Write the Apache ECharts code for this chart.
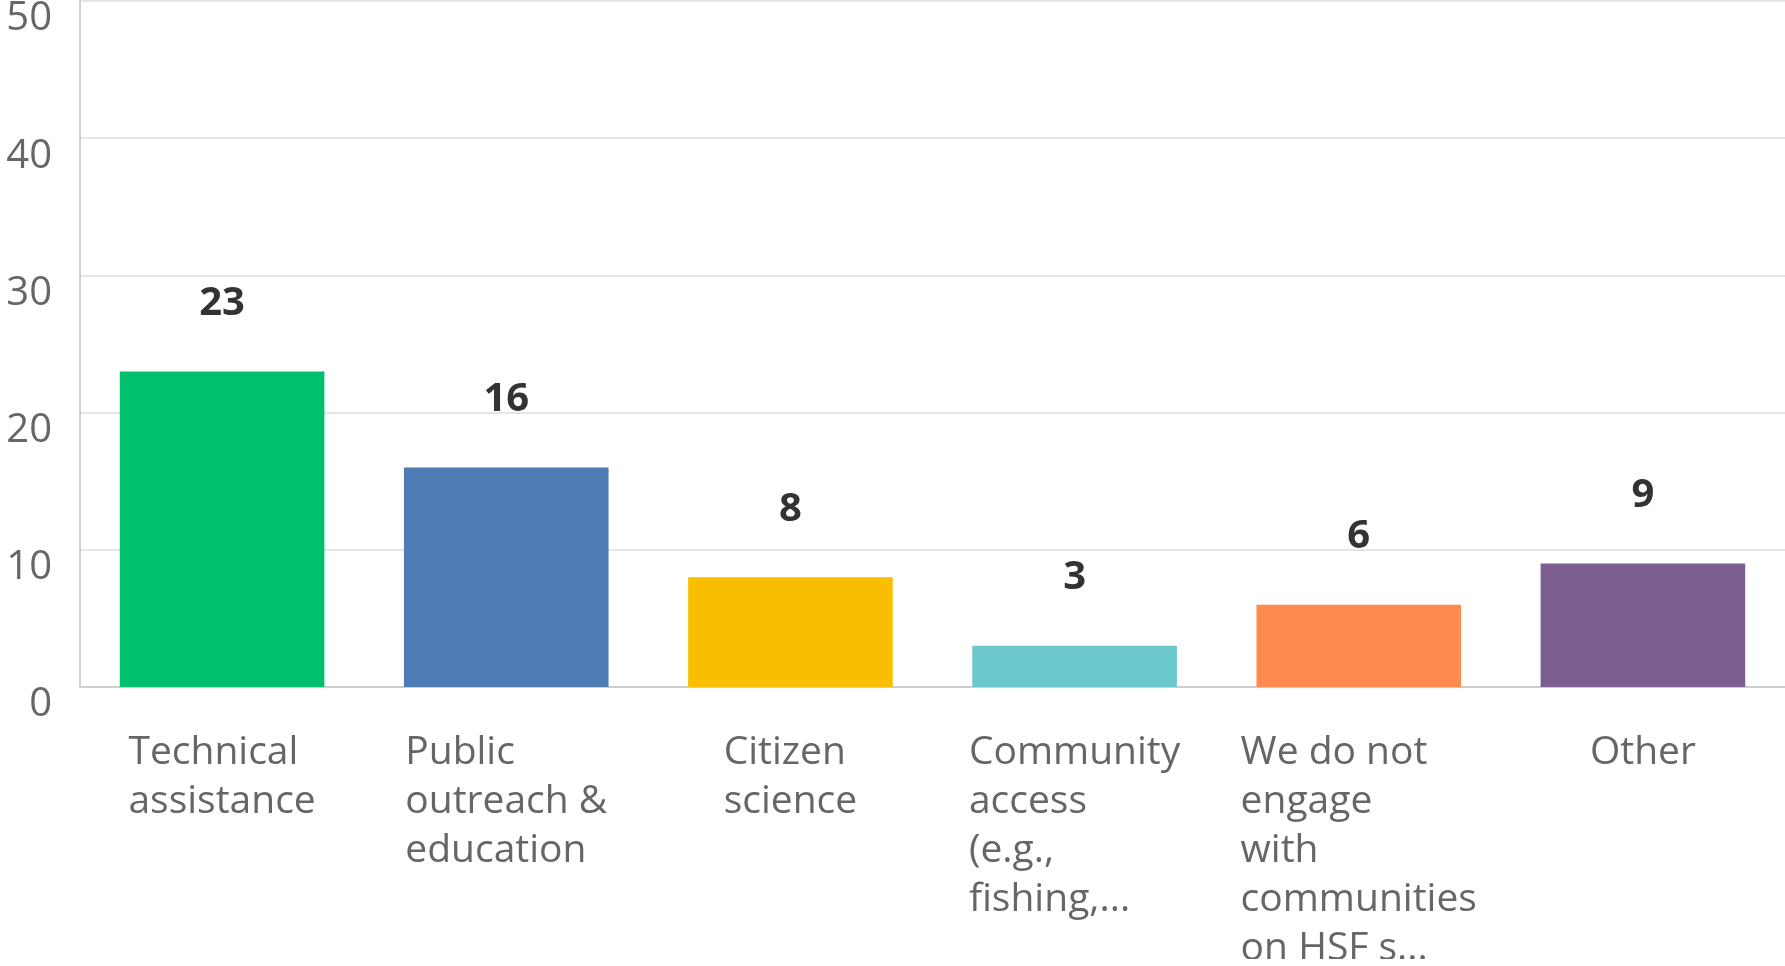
<!DOCTYPE html>
<html>
<head>
<meta charset="utf-8">
<title>Community engagement activities</title>
<script src="https://cdn.jsdelivr.net/npm/echarts@6/dist/echarts.min.js"></script>
<style>
  html, body { margin: 0; padding: 0; background: #ffffff; }
  #chart { width: 1785px; height: 966px; }
</style>
</head>
<body>
<div id="chart"></div>
<script>
// Response categories (line breaks as they wrap under each bar)
const categories = [
  'Technical\nassistance',
  'Public\noutreach &\neducation',
  'Citizen\nscience',
  'Community\naccess\n(e.g.,\nfishing,...',
  'We do not\nengage\nwith\ncommunities\non HSF s...',
  'Other'
];
// Number of responses per category
const responses = [23, 16, 8, 3, 6, 9];
// Bar colours, one per category
const barColors = ['#00bf6f', '#507cb6', '#f9be00', '#6bc8cd', '#ff8b4f', '#7d5e90'];
// Value axis ticks
const yTicks = [0, 10, 20, 30, 40, 50];

const chart = echarts.init(document.getElementById('chart'), null, { renderer: 'canvas' });

const fontFam = '"Open Sans", "Noto Sans", sans-serif';

chart.setOption({
  animation: false,
  backgroundColor: '#ffffff',
  grid: {
    left: 80, right: 0, top: 1, bottom: 279,
    containLabel: false,
    outerBoundsMode: 'none'
  },
  // White strip along the bottom edge where the long label runs out of the panel
  graphic: [{
    type: 'rect',
    left: 0,
    bottom: 0,
    z: 100,
    shape: { width: 1785, height: 7 },
    style: { fill: '#ffffff' }
  }],
  xAxis: {
    type: 'category',
    data: categories,
    axisLine: { show: true, lineStyle: { color: '#cfcfcf', width: 2 } },
    axisTick: { show: false },
    axisLabel: {
      interval: 0,
      margin: 41,
      color: '#666666',
      fontFamily: fontFam,
      fontSize: 39,
      lineHeight: 49,
      align: 'center',
      formatter: function (v) {
        return v.split('\n').map(function (s) { return '{t|' + s + '}'; }).join('\n');
      },
      rich: {
        t: { align: 'left', color: '#666666', fontFamily: fontFam, fontSize: 39, lineHeight: 49 }
      }
    }
  },
  yAxis: {
    type: 'value',
    min: yTicks[0],
    max: yTicks[yTicks.length - 1],
    interval: yTicks[1] - yTicks[0],
    axisLine: { show: true, lineStyle: { color: '#cfcfcf', width: 2 } },
    axisTick: { show: false },
    splitLine: { show: true, lineStyle: { color: '#e6e6e6', width: 2 } },
    axisLabel: {
      margin: 28,
      color: '#666666',
      fontFamily: fontFam,
      fontSize: 40,
      verticalAlign: 'top',
      lineHeight: 36
    }
  },
  series: [{
    type: 'bar',
    data: responses.map(function (v, i) {
      return { value: v, itemStyle: { color: barColors[i] } };
    }),
    barCategoryGap: '28%',
    label: {
      show: true,
      position: 'top',
      distance: 48,
      color: '#333333',
      fontFamily: fontFam,
      fontWeight: 'bold',
      fontSize: 40
    }
  }]
});
</script>
</body>
</html>
